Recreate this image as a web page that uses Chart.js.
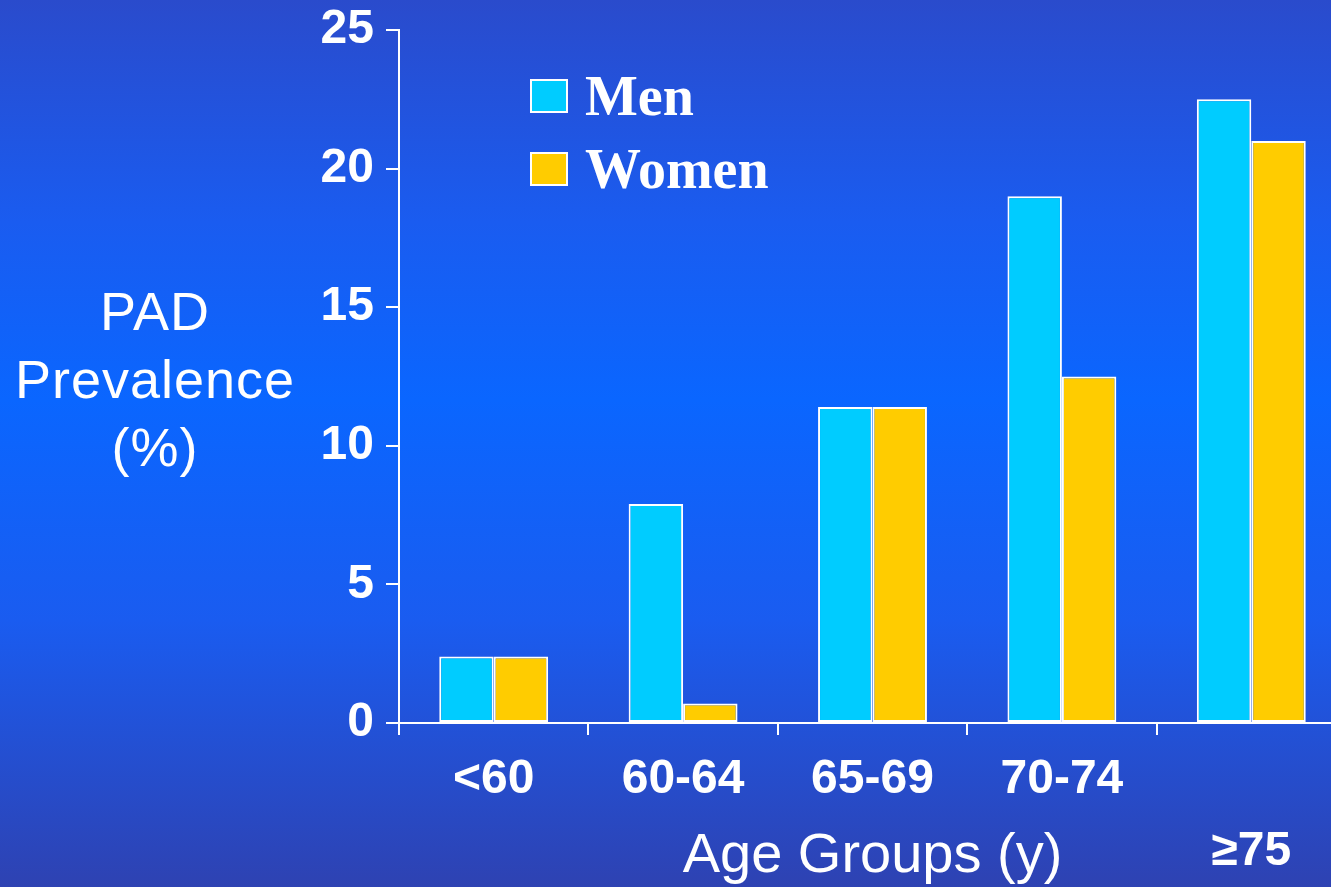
<!DOCTYPE html>
<html>
<head>
<meta charset="utf-8">
<script src="https://cdn.jsdelivr.net/npm/chart.js@4.4.1/dist/chart.umd.min.js"></script>
<style>
  html, body {
    margin: 0;
    padding: 0;
    width: 1331px;
    height: 887px;
    overflow: hidden;
  }
  body {
    background: linear-gradient(to bottom, #2a4bcc 0%, #1a5cf0 25%, #0a66ff 45%, #1a5cf0 70%, #2e42b2 100%);
    position: relative;
  }
  #wrap {
    position: absolute;
    left: 0;
    top: 0;
    width: 1346px;
    height: 887px;
  }
  #y-title {
    position: absolute;
    left: 0;
    top: 277px;
    width: 310px;
    text-align: center;
    color: #fff;
    font-family: "Liberation Sans", Arial, sans-serif;
    font-size: 54px;
    line-height: 68px;
    letter-spacing: 1px;
  }
  .leg-box {
    position: absolute;
    left: 530px;
    width: 38px;
    height: 34px;
    box-sizing: border-box;
    border: 2px solid #fff;
  }
  .leg-text {
    position: absolute;
    left: 585px;
    color: #fff;
    font-family: "Liberation Serif", "Times New Roman", serif;
    font-weight: bold;
    font-size: 56px;
    line-height: 56px;
    white-space: nowrap;
  }
</style>
</head>
<body>
<div id="wrap">
  <canvas id="padChart" width="1346" height="887"></canvas>
</div>
<div id="y-title">PAD<br>Prevalence<br>(%)</div>
<div id="legend"></div>

<script>
// Chart data
const ageGroups = ["<60", "60-64", "65-69", "70-74", ["", "≥75"]];
const menValues = [2.4, 7.9, 11.4, 19.0, 22.5];
const womenValues = [2.4, 0.7, 11.4, 12.5, 21.0];
const seriesNames = ["Men", "Women"];
const seriesColors = ["#00ccff", "#ffcc00"];
const yMax = 25;
const yStep = 5;

const tickFont = { family: "'Liberation Sans', Arial, sans-serif", size: 48, weight: "bold", lineHeight: 1.5 };

const ctx = document.getElementById("padChart").getContext("2d");
const padChart = new Chart(ctx, {
  type: "bar",
  data: {
    labels: ageGroups,
    datasets: [{
      label: seriesNames[0],
      data: menValues,
      backgroundColor: seriesColors[0],
      borderColor: "#ffffff",
      borderWidth: 2,
      borderSkipped: false
    },
    {
      label: seriesNames[1],
      data: womenValues,
      backgroundColor: seriesColors[1],
      borderColor: "#ffffff",
      borderWidth: 2,
      borderSkipped: false
    }]
  },
  options: {
    responsive: false,
    animation: false,
    devicePixelRatio: 1,
    categoryPercentage: 0.575,
    barPercentage: 1.0,
    layout: {
      padding: { top: 30, right: 0, bottom: 0, left: 0 }
    },
    plugins: {
      legend: { display: false },
      tooltip: { enabled: false }
    },
    scales: {
      x: {
        grid: {
          drawOnChartArea: false,
          color: "#ffffff",
          lineWidth: 2,
          tickLength: 12,
          offset: true
        },
        border: { color: "#ffffff", width: 2 },
        ticks: {
          color: "#ffffff",
          font: tickFont,
          padding: 9,
          maxRotation: 0,
          autoSkip: false
        },
        title: {
          display: true,
          text: "Age Groups (y)",
          color: "#ffffff",
          font: { family: "'Liberation Sans', Arial, sans-serif", size: 56, lineHeight: 1.0 },
          padding: { top: 0, bottom: 2 }
        },
        afterFit: function (scale) {
          scale.height = 164; // fixed space under the axis
          scale.paddingLeft = 0;
          scale.paddingRight = 0;
        }
      },
      y: {
        min: 0,
        max: yMax,
        grid: {
          drawOnChartArea: false,
          color: "#ffffff",
          lineWidth: 2,
          tickLength: 13
        },
        border: { color: "#ffffff", width: 2 },
        ticks: {
          stepSize: yStep,
          color: "#ffffff",
          font: { family: "'Liberation Sans', Arial, sans-serif", size: 48, weight: "bold" },
          padding: 12
        },
        afterFit: function (scale) {
          scale.width = 399; // axis line sits at x = 399
          scale.paddingTop = 0;
          scale.paddingBottom = 0;
        }
      }
    }
  }
});

// Legend built from the datasets
const legendEl = document.getElementById("legend");
const legendTops = [79, 152];
padChart.data.datasets.forEach(function (ds, i) {
  const box = document.createElement("div");
  box.className = "leg-box";
  box.style.top = legendTops[i] + "px";
  box.style.background = ds.backgroundColor;
  legendEl.appendChild(box);

  const txt = document.createElement("div");
  txt.className = "leg-text";
  txt.style.top = (legendTops[i] - 11) + "px";
  txt.textContent = ds.label;
  legendEl.appendChild(txt);
});
</script>
</body>
</html>
